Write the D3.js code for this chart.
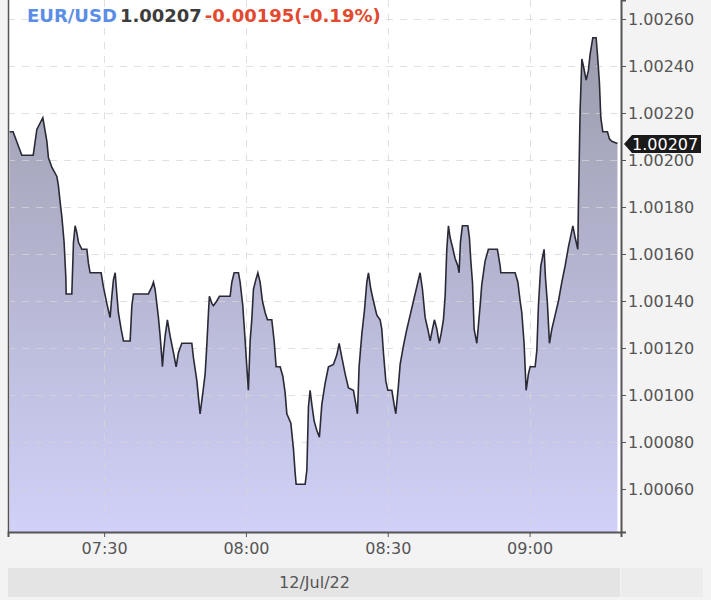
<!DOCTYPE html>
<html><head><meta charset="utf-8">
<script src="https://cdn.jsdelivr.net/npm/d3@7"></script>
<style>
html,body{margin:0;padding:0;background:#f3f3f4;}
svg{display:block;}
text{font-family:"DejaVu Sans",Verdana,sans-serif;}
</style></head><body>
<script>
// ---- data ----
const symbol = "EUR/USD";
const lastPrice = "1.00207";
const change = "-0.00195(-0.19%)";
const dateLabel = "12/Jul/22";
const xTickLabels = ["07:30","08:00","08:30","09:00"];
const yTickValues = [1.0006,1.0008,1.0010,1.0012,1.0014,1.0016,1.0018,1.0020,1.0022,1.0024,1.0026];
const times = ["07:10:00","07:10:45","07:12:35","07:15:00","07:15:46","07:17:02","07:17:53","07:18:13","07:18:56","07:20:00",
"07:20:20","07:20:42","07:21:03","07:21:32","07:21:54","07:21:58","07:23:10","07:23:31","07:23:52","07:24:14",
"07:24:34","07:25:17","07:26:21","07:26:41","07:27:02","07:29:22","07:29:51","07:30:34","07:31:16","07:31:38",
"07:31:58","07:32:20","07:32:41","07:33:01","07:33:36","07:34:05","07:35:30","07:35:52","07:36:12","07:39:22",
"07:40:05","07:40:26","07:40:47","07:41:29","07:41:51","07:42:12","07:42:20","07:42:33","07:42:54","07:43:23",
"07:43:58","07:44:40","07:45:14","07:45:43","07:46:26","07:48:33","07:48:53","07:49:37","07:49:57","07:50:18",
"07:50:53","07:51:22","07:51:43","07:52:04","07:52:16","07:52:47","07:53:07","07:53:50","07:54:23","07:56:39",
"07:57:01","07:57:30","07:58:25","07:58:46","07:59:20","07:59:50","08:00:11","08:00:31","08:00:53","08:01:14",
"08:01:35","08:02:05","08:02:31","08:03:00","08:03:29","08:04:04","08:04:33","08:05:28","08:05:58","08:06:23",
"08:07:14","08:07:48","08:08:17","08:08:39","08:09:30","08:10:03","08:10:24","08:10:37","08:12:31","08:12:53",
"08:13:13","08:13:34","08:13:56","08:14:25","08:14:59","08:15:32","08:16:03","08:16:45","08:17:27","08:18:30",
"08:19:13","08:19:43","08:20:17","08:20:59","08:21:41","08:22:44","08:23:05","08:23:35","08:23:56","08:24:31",
"08:25:04","08:25:34","08:25:55","08:26:25","08:26:58","08:27:41","08:28:23","08:28:44","08:29:05","08:29:35",
"08:30:01","08:30:52","08:31:20","08:31:42","08:32:15","08:32:37","08:33:19","08:34:02","08:34:44","08:35:26",
"08:36:08","08:36:50","08:37:20","08:37:54","08:38:28","08:38:58","08:39:27","08:39:52","08:40:23","08:40:52",
"08:41:17","08:41:46","08:42:08","08:42:29","08:42:50","08:43:11","08:43:41","08:44:15","08:44:49","08:45:05",
"08:45:22","08:45:47","08:46:56","08:47:16","08:47:34","08:47:55","08:48:16","08:48:50","08:49:32","08:49:53",
"08:50:35","08:51:17","08:53:11","08:53:46","08:53:55","08:56:56","08:57:31","08:58:00","08:58:21","08:58:50",
"08:59:07","08:59:16","08:59:45","09:00:07","09:01:10","09:01:32","09:01:52","09:02:22","09:03:04","09:03:21",
"09:03:46","09:04:12","09:04:42","09:05:24","09:06:06","09:06:49","09:07:31","09:08:13","09:09:09","09:09:38",
"09:10:12","09:10:20","09:10:41","09:11:03","09:11:23","09:11:58","09:12:26","09:12:48","09:13:22","09:14:04",
"09:14:21","09:14:46","09:15:04","09:15:29","09:16:28","09:16:53","09:17:23","09:18:35"];
const prices = [1.00212,1.00212,1.00202,1.00202,1.00213,1.00218,1.00208,1.00201,1.00197,1.00193,
1.00189,1.00182,1.00176,1.00165,1.00150,1.00143,1.00143,1.00165,1.00172,1.00169,
1.00165,1.00162,1.00162,1.00156,1.00152,1.00152,1.00146,1.00139,1.00133,1.00142,
1.00149,1.00152,1.00143,1.00135,1.00128,1.00123,1.00123,1.00138,1.00143,1.00143,
1.00146,1.00148,1.00145,1.00133,1.00125,1.00116,1.00112,1.00118,1.00125,1.00132,
1.00125,1.00118,1.00112,1.00118,1.00122,1.00122,1.00116,1.00106,1.00099,1.00092,
1.00101,1.00109,1.00121,1.00135,1.00142,1.00139,1.00138,1.00140,1.00142,1.00142,
1.00148,1.00152,1.00152,1.00148,1.00138,1.00123,1.00112,1.00102,1.00123,1.00132,
1.00145,1.00149,1.00152,1.00148,1.00140,1.00135,1.00132,1.00132,1.00123,1.00112,
1.00112,1.00108,1.00101,1.00092,1.00088,1.00077,1.00067,1.00062,1.00062,1.00068,
1.00095,1.00102,1.00096,1.00089,1.00085,1.00082,1.00096,1.00105,1.00112,1.00113,
1.00117,1.00122,1.00116,1.00109,1.00103,1.00102,1.00098,1.00092,1.00112,1.00126,
1.00136,1.00148,1.00152,1.00145,1.00140,1.00134,1.00132,1.00128,1.00118,1.00106,
1.00102,1.00102,1.00096,1.00092,1.00104,1.00113,1.00121,1.00128,1.00134,1.00140,
1.00146,1.00152,1.00145,1.00133,1.00128,1.00123,1.00128,1.00132,1.00128,1.00122,
1.00126,1.00132,1.00142,1.00162,1.00172,1.00167,1.00163,1.00158,1.00155,1.00152,
1.00165,1.00172,1.00172,1.00167,1.00157,1.00148,1.00128,1.00122,1.00138,1.00147,
1.00157,1.00162,1.00162,1.00155,1.00152,1.00152,1.00148,1.00140,1.00135,1.00122,
1.00109,1.00102,1.00109,1.00112,1.00112,1.00119,1.00138,1.00155,1.00162,1.00150,
1.00139,1.00122,1.00128,1.00134,1.00140,1.00148,1.00155,1.00163,1.00172,1.00167,
1.00162,1.00182,1.00221,1.00243,1.00240,1.00234,1.00238,1.00245,1.00252,1.00252,
1.00245,1.00233,1.00218,1.00212,1.00212,1.00209,1.00208,1.00207];

// ---- layout ----
const W = 711, H = 600;
const L = 8, R = 621, T = 0, B = 532;
const parse = d3.timeParse("%Y-%m-%d %H:%M:%S");
const day = "2022-07-12 ";
const data = times.map((t,i)=>({t:parse(day+t), v:prices[i]}));

const x = d3.scaleTime()
  .domain([parse(day+"07:09:40"), parse(day+"09:19:20")])
  .range([L, R]);
const y = d3.scaleLinear()
  .domain([1.0006 - 43/235000, 1.0026 + 19/235000])
  .range([B, T]);

const svg = d3.select("body").append("svg").attr("width",W).attr("height",H);

const defs = svg.append("defs");
const grad = defs.append("linearGradient").attr("id","fillGrad")
  .attr("gradientUnits","userSpaceOnUse").attr("x1",0).attr("x2",0).attr("y1",30).attr("y2",B);
grad.append("stop").attr("offset",0).attr("stop-color","#9b9bac");
grad.append("stop").attr("offset",1).attr("stop-color","#d1d1f9");

// background of plot
svg.append("rect").attr("x",L).attr("y",T).attr("width",R-L).attr("height",B-T).attr("fill","#ffffff");

// area + line
const area = d3.area().x(d=>x(d.t)).y0(B).y1(d=>y(d.v)).curve(d3.curveLinear);
const line = d3.line().x(d=>x(d.t)).y(d=>y(d.v)).curve(d3.curveLinear);
svg.append("path").datum(data).attr("d",area).attr("fill","url(#fillGrad)");

// grid (on top of area, light)
const xTickDates = xTickLabels.map(s=>parse(day+s+":00"));
const grid = svg.append("g").attr("stroke","#d6d6d6").attr("stroke-opacity",0.75)
  .attr("stroke-width",1).attr("stroke-dasharray","7,7");
grid.selectAll("line.h").data(yTickValues).join("line").attr("class","h")
  .attr("x1",L).attr("x2",R).attr("y1",d=>Math.round(y(d))+0.5).attr("y2",d=>Math.round(y(d))+0.5);
grid.selectAll("line.v").data(xTickDates).join("line").attr("class","v")
  .attr("y1",T).attr("y2",B).attr("x1",d=>Math.round(x(d))+0.5).attr("x2",d=>Math.round(x(d))+0.5);

svg.append("path").datum(data).attr("d",line).attr("fill","none")
  .attr("stroke","#2a2a36").attr("stroke-width",1.6).attr("stroke-linejoin","miter");

// plot borders
svg.append("line").attr("x1",L+0.5).attr("x2",L+0.5).attr("y1",T).attr("y2",B).attr("stroke","#555").attr("stroke-width",1.5);

// right axis
const yAxis = d3.axisRight(y).tickValues(yTickValues).tickFormat(d3.format(".5f")).tickSize(5).tickPadding(2);
const gy = svg.append("g").attr("transform",`translate(${R},0)`).call(yAxis);
gy.select(".domain").attr("stroke","#555").attr("stroke-width",2);
gy.selectAll(".tick line").attr("stroke","#555");
gy.selectAll(".tick text").attr("fill","#555").style("font-size","16px").style("font-family","DejaVu Sans");

// bottom axis
const xAxis = d3.axisBottom(x).tickValues(xTickDates).tickFormat(d3.timeFormat("%H:%M")).tickSize(5).tickPadding(6).tickSizeOuter(5);
const gx = svg.append("g").attr("transform",`translate(0,${B})`).call(xAxis);
gx.select(".domain").attr("stroke","#555").attr("stroke-width",2);
gx.selectAll(".tick line").attr("stroke","#555");
gx.selectAll(".tick text").attr("fill","#555").style("font-size","16px").style("font-family","DejaVu Sans");

// date band
svg.append("rect").attr("x",L).attr("y",568).attr("width",R-L-1).attr("height",29).attr("fill","#e4e4e4");
svg.append("rect").attr("x",R).attr("y",568).attr("width",W-R-8).attr("height",29).attr("fill","#ececec");
svg.append("text").attr("x",(L+R)/2).attr("y",582).attr("text-anchor","middle")
  .attr("dominant-baseline","central").attr("fill","#555").style("font-size","16px").text(dateLabel);

// current price marker
const last = data[data.length-1];
const py = Math.round(y(last.v));
svg.append("path").attr("d",`M${R+3},${py} L${R+11},${py-9} L${W-10},${py-9} L${W-10},${py+9} L${R+11},${py+9} Z`)
  .attr("fill","#1a1a1a");
svg.append("text").attr("x",R+11).attr("y",py).attr("dominant-baseline","central")
  .attr("fill","#ffffff").style("font-size","16px").text(lastPrice);

// title
const title = svg.append("text").attr("x",27).attr("y",22).style("font-size","18px").style("font-weight","bold");
title.append("tspan").attr("fill","#5b8ee6").text(symbol);
title.append("tspan").attr("fill","#3c3c3c").attr("dx",3).text(lastPrice);
title.append("tspan").attr("fill","#e2492f").attr("dx",3).text(change);
</script>
</body></html>
